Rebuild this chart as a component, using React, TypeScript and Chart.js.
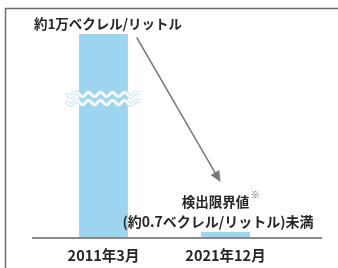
import React, { useEffect, useRef } from "react";
import { Chart, registerables } from "chart.js";

Chart.register(...registerables);

const categories = ["2011年3月", "2021年12月"];
const values = [10000, 0.7]; // ベクレル/リットル
const topLabel = "約1万ベクレル/リットル";
const limitLine1 = "検出限界値";
const limitMark = "※";
const limitLine2 = "(約0.7ベクレル/リットル)未満";

const FONT = '"Noto Sans CJK JP", "Noto Sans", sans-serif';
const TEXT = "#262626";
const BAR = "#9dd5ee";

const decor = {
  id: "decor",
  afterDatasetsDraw(chart: any) {
    const ctx = chart.ctx;
    const area = chart.chartArea;
    const meta = chart.getDatasetMeta(0);
    const b1 = meta.data[0];
    const b2 = meta.data[1];
    ctx.save();
    // frame
    ctx.strokeStyle = "#6e6e6e";
    ctx.lineWidth = 1.5;
    ctx.beginPath();
    ctx.moveTo(5.5, chart.height);
    ctx.lineTo(5.5, 8.5);
    ctx.lineTo(chart.width, 8.5);
    ctx.stroke();
    // baseline
    ctx.strokeStyle = "#8a8a8a";
    ctx.lineWidth = 2;
    ctx.beginPath();
    ctx.moveTo(area.left - 10.5, area.bottom);
    ctx.lineTo(area.right + 35.5, area.bottom);
    ctx.stroke();
    // wave break
    const drawWave = (y: number) => {
      const x0 = b1.x - 36;
      const x1 = b1.x + 35;
      const path = () => {
        ctx.beginPath();
        for (let x = x0; x <= x1; x += 0.5) {
          const yy = y + 2.2 * Math.sin(((x - x0) / 12) * Math.PI * 2);
          if (x === x0) ctx.moveTo(x, yy);
          else ctx.lineTo(x, yy);
        }
      };
      ctx.lineCap = "round";
      ctx.strokeStyle = "#bfe3f4";
      ctx.lineWidth = 4;
      path();
      ctx.stroke();
      ctx.strokeStyle = "#ffffff";
      ctx.lineWidth = 2.2;
      path();
      ctx.stroke();
    };
    drawWave(94.5);
    drawWave(102.5);
    // arrow
    const sx = b1.x + 33.5, sy = area.top + 4;
    const ex = b2.x - 5, ey = b2.y - 50;
    ctx.strokeStyle = "#7a7a7a";
    ctx.fillStyle = "#7a7a7a";
    ctx.lineWidth = 1.5;
    const ang = Math.atan2(ey - sy, ex - sx);
    ctx.beginPath();
    ctx.moveTo(sx, sy);
    ctx.lineTo(ex - 6 * Math.cos(ang), ey - 6 * Math.sin(ang));
    ctx.stroke();
    ctx.beginPath();
    ctx.moveTo(ex, ey);
    ctx.lineTo(ex - 11 * Math.cos(ang) + 5 * Math.sin(ang), ey - 11 * Math.sin(ang) - 5 * Math.cos(ang));
    ctx.lineTo(ex - 11 * Math.cos(ang) - 5 * Math.sin(ang), ey - 11 * Math.sin(ang) + 5 * Math.cos(ang));
    ctx.closePath();
    ctx.fill();
    // texts
    ctx.fillStyle = TEXT;
    ctx.font = `bold 13.5px ${FONT}`;
    ctx.textBaseline = "middle";
    ctx.textAlign = "center";
    ctx.fillText(topLabel, b1.x + 4.5, area.top - 10);
    ctx.fillText(limitLine1, b2.x - 10, b2.y - 30);
    const w1 = ctx.measureText(limitLine1).width;
    ctx.font = `bold 9px ${FONT}`;
    ctx.fillStyle = "#555";
    ctx.fillText(limitMark, b2.x - 10 + w1 / 2 + 6, b2.y - 37);
    ctx.fillStyle = TEXT;
    ctx.font = `bold 14px ${FONT}`;
    ctx.fillText(limitLine2, b2.x - 7.5, b2.y - 10);
    ctx.restore();
  },
};

export default function App() {
  const ref = useRef<HTMLCanvasElement>(null);
  useEffect(() => {
    document.body.style.margin = "0";
    const chart = new Chart(ref.current!, {
      type: "bar",
      data: {
        labels: categories,
        datasets: [
          {
            data: values,
            backgroundColor: BAR,
            borderWidth: 0,
            barPercentage: 0.4,
            categoryPercentage: 1,
          },
        ],
      },
      options: {
        animation: false,
        responsive: false,
        layout: { padding: { top: 34, bottom: 0, left: 42.5, right: 51.5 } },
        plugins: { legend: { display: false }, tooltip: { enabled: false } },
        scales: {
          x: {
            grid: { display: false, drawTicks: false },
            border: { display: false },
            afterFit: (scale: any) => {
              scale.height = 30;
            },
            ticks: {
              padding: 9,
              color: TEXT,
              font: { family: FONT, size: 14.5, weight: "bold" },
            },
          },
          y: {
            type: "logarithmic",
            display: false,
            min: 0.523,
            max: 10000,
          },
        },
      },
      plugins: [decor],
    });
    return () => chart.destroy();
  }, []);
  return <canvas ref={ref} width={338} height={268} style={{ display: "block" }} />;
}
